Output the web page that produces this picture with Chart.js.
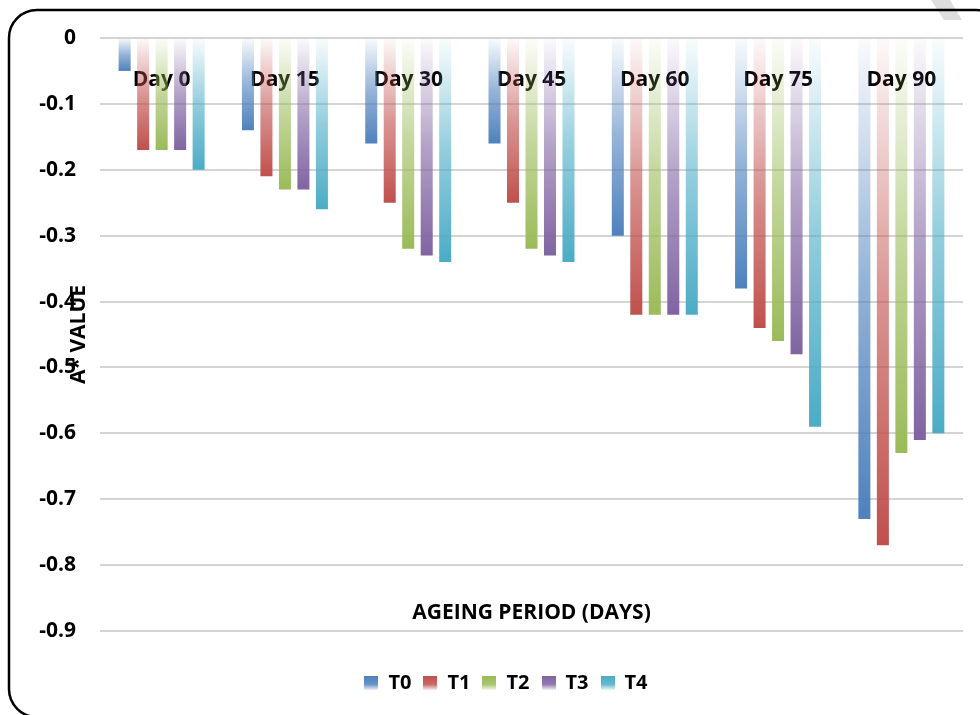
<!DOCTYPE html>
<html>
<head>
<meta charset="utf-8">
<script src="https://cdn.jsdelivr.net/npm/chart.js@4.4.1/dist/chart.umd.min.js"></script>
<style>
  html, body { margin: 0; padding: 0; background: #ffffff; }
  #wrap { width: 980px; height: 715px; position: relative; }
</style>
</head>
<body>
<div id="wrap"><canvas id="c" width="980" height="715"></canvas></div>
<script>
const categories = ['Day 0', 'Day 15', 'Day 30', 'Day 45', 'Day 60', 'Day 75', 'Day 90'];
const seriesNames = ['T0', 'T1', 'T2', 'T3', 'T4'];
const T0 = [-0.05, -0.14, -0.16, -0.16, -0.30, -0.38, -0.73];
const T1 = [-0.17, -0.21, -0.25, -0.25, -0.42, -0.44, -0.77];
const T2 = [-0.17, -0.23, -0.32, -0.32, -0.42, -0.46, -0.63];
const T3 = [-0.17, -0.23, -0.33, -0.33, -0.42, -0.48, -0.61];
const T4 = [-0.20, -0.26, -0.34, -0.34, -0.42, -0.59, -0.60];
const seriesValues = [T0, T1, T2, T3, T4];
const seriesColors = ['#4F81BD', '#C0504D', '#9BBB59', '#8064A2', '#4BACC6'];
const yTickMin = -0.9, yTickMax = 0, yTickStep = 0.1;
const yTitle = 'A* VALUE';
const xTitle = 'AGEING PERIOD (DAYS)';

const FONT = "'Open Sans', 'Liberation Sans', sans-serif";

function rgba(hex, a) {
  const n = parseInt(hex.slice(1), 16);
  return 'rgba(' + ((n >> 16) & 255) + ',' + ((n >> 8) & 255) + ',' + (n & 255) + ',' + a + ')';
}

function barGradient(color) {
  return function (ctx) {
    const chart = ctx.chart;
    const scales = chart.scales;
    if (!chart.chartArea || ctx.type !== 'data' || !scales.y) return color;
    const y0 = scales.y.getPixelForValue(0);
    const y1 = scales.y.getPixelForValue(ctx.raw);
    if (Math.abs(y1 - y0) < 1) return color;
    const g = chart.ctx.createLinearGradient(0, y0, 0, y1);
    g.addColorStop(0, rgba(color, 0.03));
    g.addColorStop(0.5, rgba(color, 0.6));
    g.addColorStop(1, rgba(color, 1));
    return g;
  };
}

function legendSwatch(color) {
  const cv = document.createElement('canvas');
  cv.width = 14; cv.height = 14;
  const c = cv.getContext('2d');
  const g = c.createLinearGradient(0, 0, 0, 14);
  g.addColorStop(0, rgba(color, 1));
  g.addColorStop(0.6, rgba(color, 0.85));
  g.addColorStop(1, rgba(color, 0.1));
  c.fillStyle = g;
  c.fillRect(0, 0, 14, 14);
  return cv;
}
const swatches = seriesColors.map(legendSwatch);

const framePlugin = {
  id: 'frame',
  beforeDraw(chart) {
    const c = chart.ctx;
    c.save();
    c.fillStyle = '#ffffff';
    c.fillRect(0, 0, chart.width, chart.height);
    c.fillStyle = '#dedede';
    c.beginPath();
    c.moveTo(931, 0); c.lineTo(950, 0); c.lineTo(962, 20); c.lineTo(944, 20);
    c.closePath(); c.fill();
    c.strokeStyle = '#000000';
    c.lineWidth = 2.5;
    const x = 9, y = 10, w = 995, h = 707, r = 28;
    c.beginPath();
    c.moveTo(x + r, y);
    c.lineTo(x + w - r, y);
    c.arcTo(x + w, y, x + w, y + r, r);
    c.lineTo(x + w, y + h - r);
    c.arcTo(x + w, y + h, x + w - r, y + h, r);
    c.lineTo(x + r, y + h);
    c.arcTo(x, y + h, x, y + h - r, r);
    c.lineTo(x, y + r);
    c.arcTo(x, y, x + r, y, r);
    c.closePath();
    c.stroke();
    c.restore();
  },
  afterDraw(chart) {
    const c = chart.ctx;
    const a = chart.chartArea;
    c.save();
    c.fillStyle = '#000000';
    c.font = 'bold 21px ' + FONT;
    c.textAlign = 'center';
    c.textBaseline = 'middle';
    c.fillText(xTitle, (a.left + a.right) / 2, a.bottom - 18);
    c.restore();
  }
};

const chart = new Chart(document.getElementById('c'), {
  type: 'bar',
  data: {
    labels: categories,
    datasets: seriesNames.map((name, i) => ({
      label: name,
      data: seriesValues[i],
      backgroundColor: barGradient(seriesColors[i]),
      borderWidth: 0,
      categoryPercentage: 0.75,
      barPercentage: 0.65
    }))
  },
  options: {
    responsive: false,
    animation: false,
    devicePixelRatio: 1,
    layout: { padding: { left: 32, right: 0, top: 38, bottom: 12 } },
    plugins: {
      tooltip: { enabled: false },
      legend: {
        position: 'bottom',
        labels: {
          usePointStyle: true,
          boxWidth: 14,
          boxHeight: 14,
          padding: 12,
          color: '#000000',
          font: { family: FONT, size: 20, weight: 'bold' },
          generateLabels(ch) {
            const items = Chart.defaults.plugins.legend.labels.generateLabels(ch);
            items.forEach((it, i) => {
              it.pointStyle = swatches[i];
              it.fillStyle = seriesColors[i];
              it.strokeStyle = 'rgba(0,0,0,0)';
              it.lineWidth = 0;
            });
            return items;
          }
        }
      }
    },
    scales: {
      x: {
        type: 'category',
        position: { y: 0 },
        offset: true,
        grid: { display: false, drawTicks: false },
        border: { display: false },
        ticks: {
          color: '#000000',
          padding: 29,
          maxRotation: 0,
          autoSkip: false,
          font: { family: FONT, size: 21, weight: 'bold' }
        }
      },
      xB: {
        type: 'linear',
        position: 'bottom',
        display: true,
        grid: { display: false, drawTicks: false },
        border: { display: false },
        ticks: { display: false },
        afterFit(s) { s.height = 30; }
      },
      y: {
        type: 'linear',
        position: 'left',
        min: yTickMin,
        max: yTickMax,
        z: 1,
        grid: { color: 'rgba(0,0,0,0.17)', lineWidth: 2, drawTicks: false },
        border: { display: false },
        ticks: {
          stepSize: yTickStep,
          padding: 24,
          color: '#000000',
          font: { family: FONT, size: 21, weight: 'bold' },
          callback(v) { return Math.abs(v) < 1e-9 ? '0' : Number(v).toFixed(1); }
        },
        title: {
          display: true,
          text: yTitle,
          color: '#000000',
          font: { family: FONT, size: 21, weight: 'bold' },
          padding: { top: 34, bottom: 0 }
        },
        afterFit(s) { s.width = 68; }
      },
      yR: {
        type: 'linear',
        position: 'right',
        display: true,
        grid: { display: false, drawTicks: false },
        border: { display: false },
        ticks: { display: false },
        afterFit(s) { s.width = 17; }
      }
    }
  },
  plugins: [framePlugin]
});
</script>
</body>
</html>
